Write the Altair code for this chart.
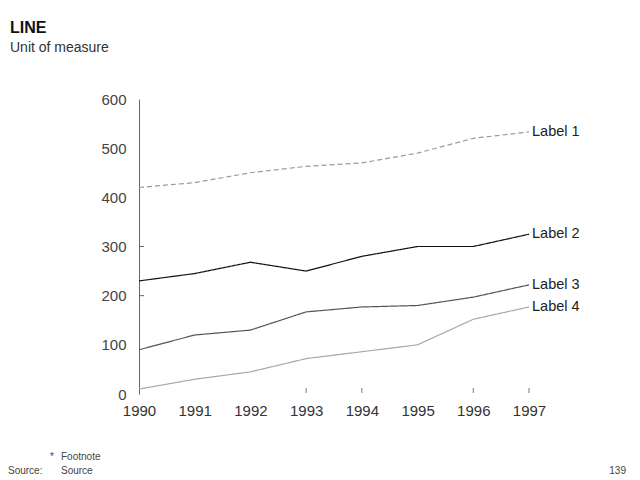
import altair as alt
import pandas as pd

years = [1990, 1991, 1992, 1993, 1994, 1995, 1996, 1997]
series_names = ["Label 1", "Label 2", "Label 3", "Label 4"]
label1 = [420, 430, 450, 463, 470, 490, 520, 533]
label2 = [230, 245, 268, 250, 280, 300, 300, 325]
label3 = [90, 120, 130, 167, 177, 180, 197, 222]
label4 = [10, 30, 45, 72, 86, 100, 152, 177]
y_ticks = [0, 100, 200, 300, 400, 500, 600]
y_visible_ticks = [200, 300]
x_visible_ticks = [1993, 1994, 1996, 1997]

colors = ["#9a9a9a", "#111111", "#555555", "#a8a8a8"]
dashes = [[5, 3], [1, 0], [1, 0], [1, 0]]

rows = []
for name, vals in zip(series_names, [label1, label2, label3, label4]):
    for yr, v in zip(years, vals):
        rows.append({"year": yr, "value": v, "series": name})
df = pd.DataFrame(rows)
last = df[df["year"] == years[-1]]

FONT = "Liberation Sans"
W, H = 390, 295

xs = alt.Scale(domain=[1990, 1997], nice=False, zero=False)
ys = alt.Scale(domain=[0, 600], nice=False)

lines = alt.Chart(df).mark_line(strokeWidth=1.2).encode(
    x=alt.X("year:Q", scale=xs,
            axis=alt.Axis(values=years, format="d", domain=False, ticks=False, grid=False,
                          labelFont=FONT, labelFontSize=15, labelColor="#333",
                          labelFlush=False, labelOverlap=False, labelBound=False,
                          labelPadding=9, title=None)),
    y=alt.Y("value:Q", scale=ys,
            axis=alt.Axis(values=y_ticks, domainColor="#666", ticks=False, grid=False,
                          labelFont=FONT, labelFontSize=15, labelColor="#444",
                          labelFlush=False, labelOverlap=False,
                          labelPadding=13, title=None)),
    color=alt.Color("series:N", scale=alt.Scale(domain=series_names, range=colors), legend=None),
    strokeDash=alt.StrokeDash("series:N", scale=alt.Scale(domain=series_names, range=dashes), legend=None),
)

labels = alt.Chart(last).mark_text(align="left", baseline="middle", dx=3,
                                    font=FONT, fontSize=14.5, color="#222").encode(
    x=alt.X("year:Q", scale=xs), y=alt.Y("value:Q", scale=ys), text="series:N")

yt = alt.Chart(pd.DataFrame({"v": y_visible_ticks})).mark_rule(color="#666").encode(
    y=alt.Y("v:Q", scale=ys), x=alt.value(0), x2=alt.value(5))
xt = alt.Chart(pd.DataFrame({"yr": x_visible_ticks})).mark_rule(color="#777").encode(
    x=alt.X("yr:Q", scale=xs), y=alt.value(H - 6), y2=alt.value(H - 1))

def txt(s, x, y, size, bold=False, align="left", color="#333"):
    return alt.Chart(pd.DataFrame({"t": [s]})).mark_text(
        align=align, baseline="alphabetic", font=FONT, fontSize=size,
        fontWeight="bold" if bold else "normal", color=color
    ).encode(text="t:N", x=alt.value(x), y=alt.value(y))

title_text = "LINE"
subtitle_text = "Unit of measure"
foot_star = "*"
foot_text = "Footnote"
source_label = "Source:"
source_text = "Source"
page_no = "139"

annots = [
    txt(title_text, -129, -66, 16, bold=True, color="#111"),
    txt(subtitle_text, -129, -47, 14, color="#333"),
    txt(foot_star, -89, 361, 10, color="#444"),
    txt(foot_text, -78, 361, 10, color="#444"),
    txt(source_label, -131, 375, 10, color="#444"),
    txt(source_text, -78, 375, 10, color="#444"),
    txt(page_no, 487, 375, 10, align="right", color="#444"),
]

chart = alt.layer(lines, labels, yt, xt, *annots).properties(
    width=W, height=H,
    autosize=alt.AutoSizeParams(type="none"),
    padding={"left": 139, "top": 99, "right": 111, "bottom": 86},
    background="white",
).configure_view(stroke=None)

chart.save("out.html", embed_options={"renderer": "svg", "actions": False})
